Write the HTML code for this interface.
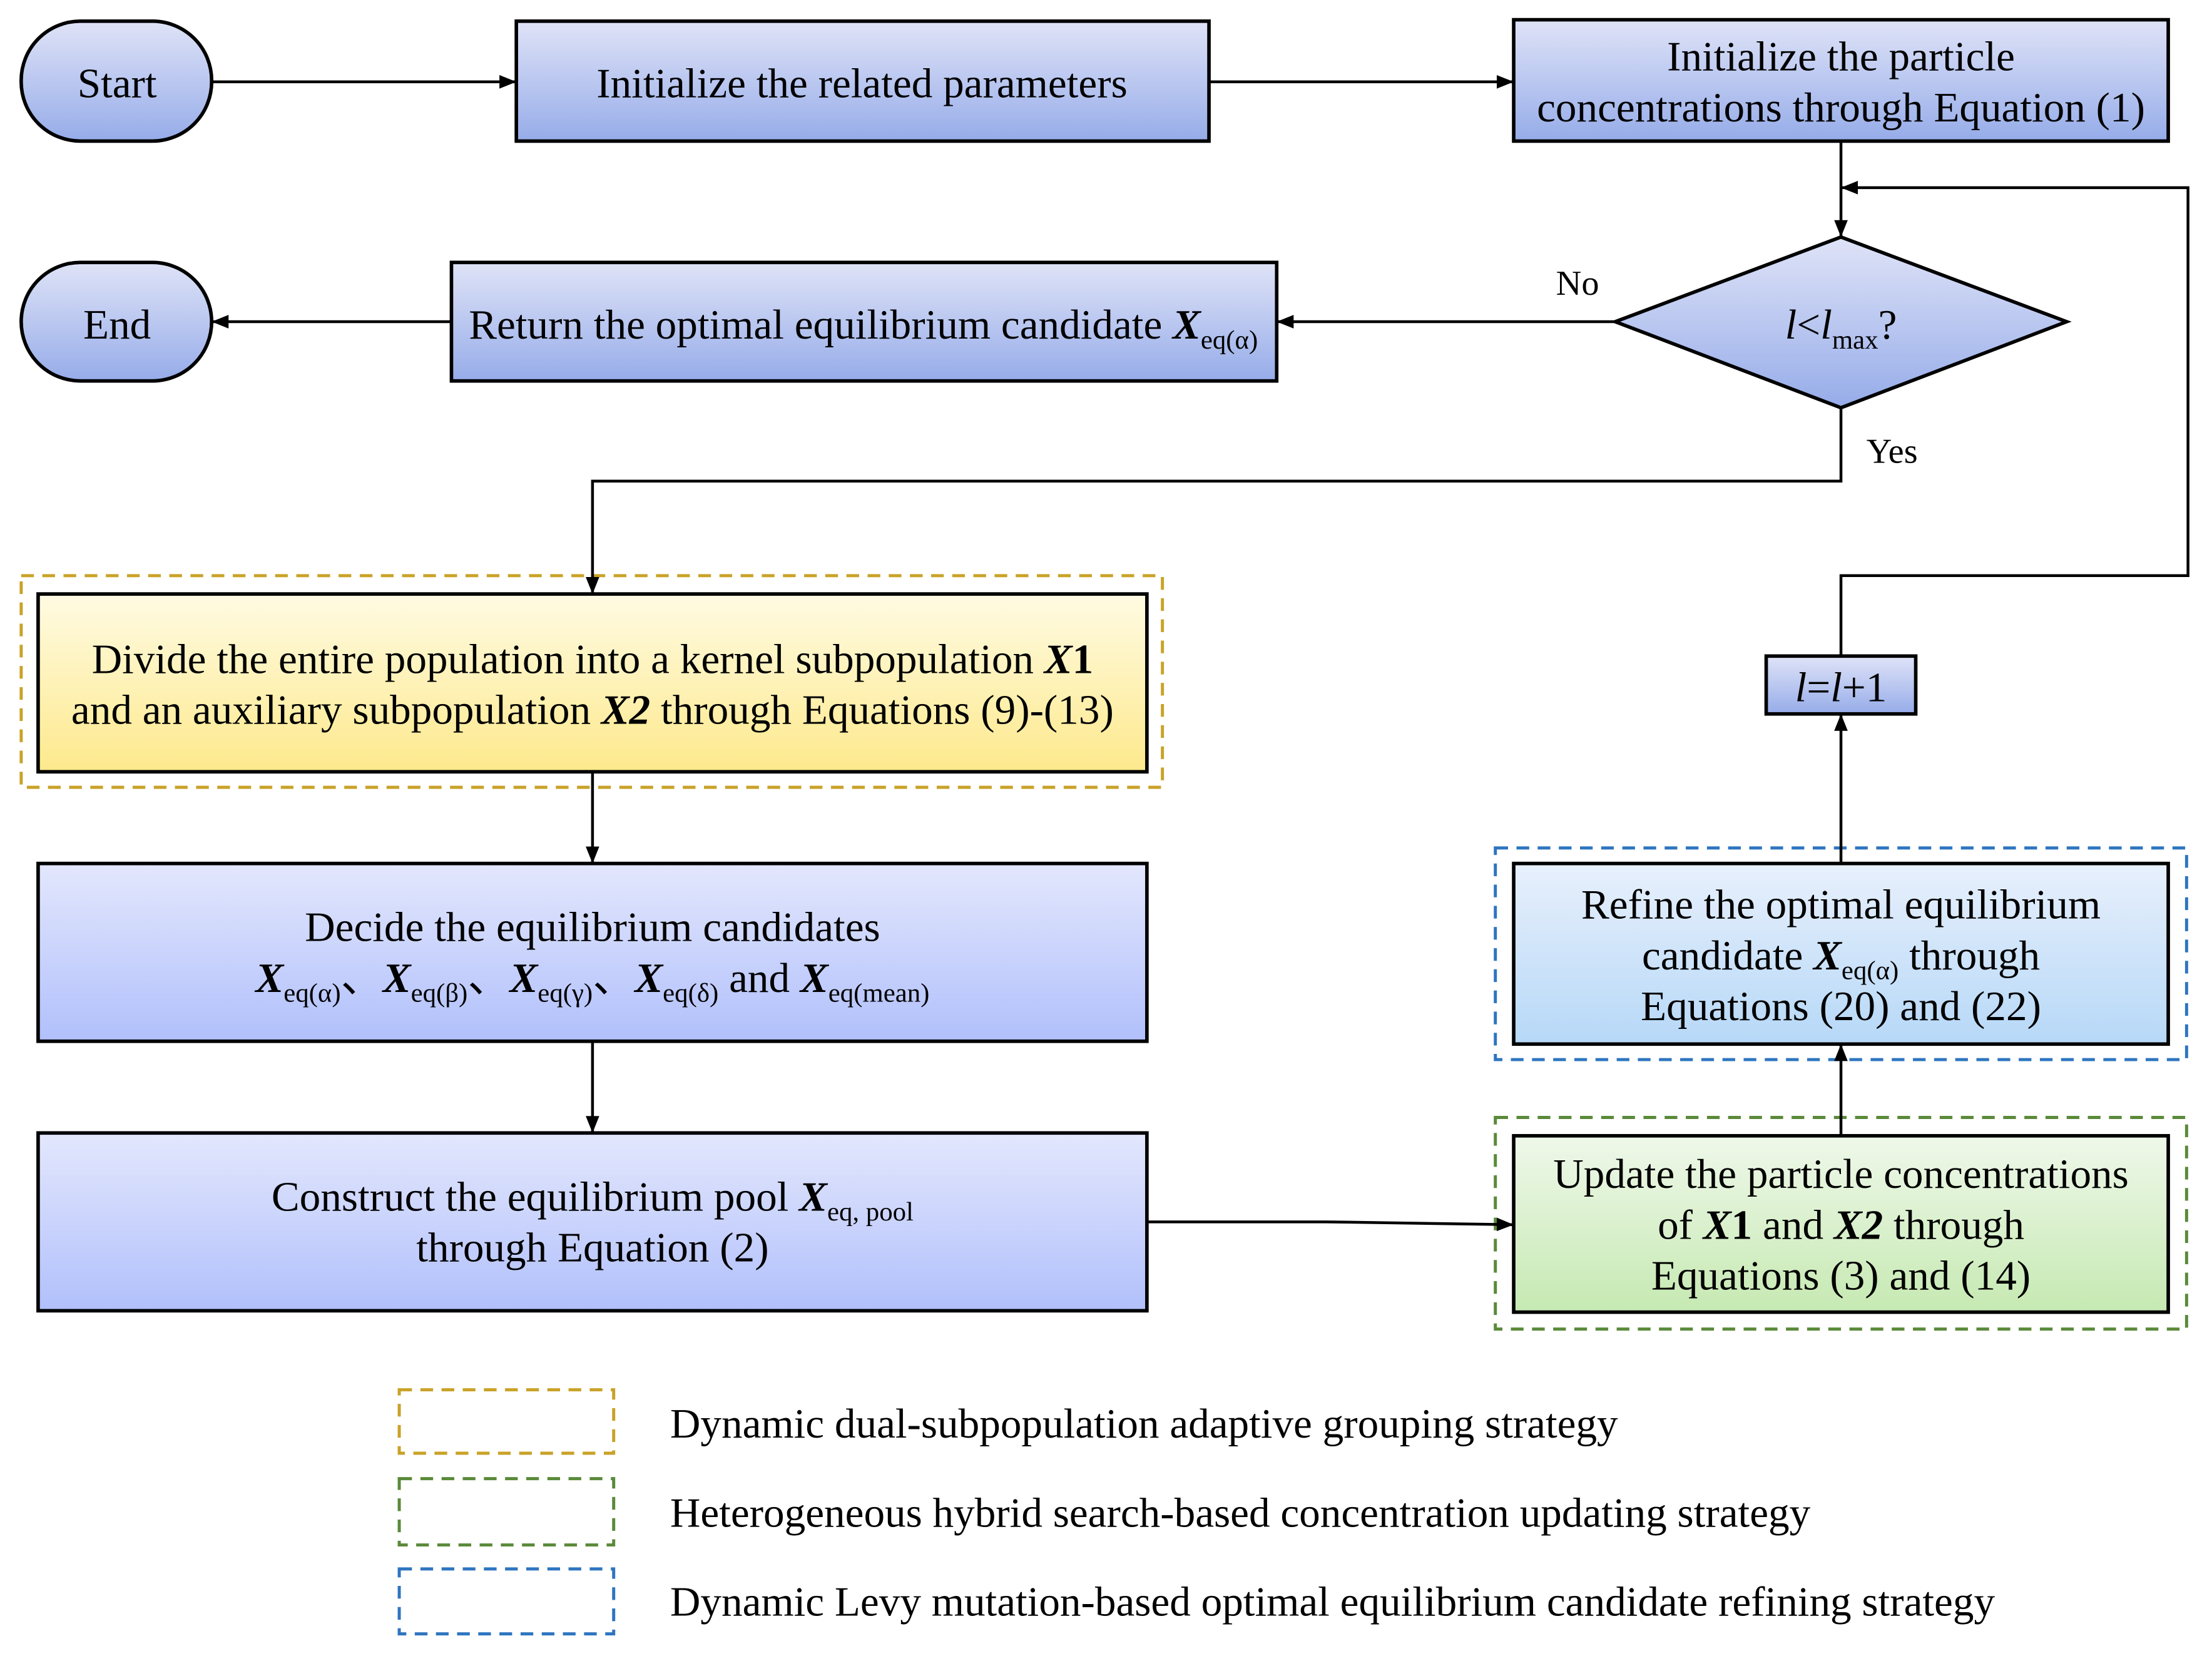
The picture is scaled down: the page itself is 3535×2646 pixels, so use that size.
<!DOCTYPE html>
<html><head><meta charset="utf-8"><style>html,body{margin:0;padding:0;background:#fff}svg{display:block}text{font-family:"Liberation Serif","Times New Roman",serif}</style></head>
<body>
<svg width="3535" height="2646" viewBox="0 0 1568 1173.7" xmlns="http://www.w3.org/2000/svg" font-size="29.8">
<defs>
<linearGradient id="b1" x1="0" y1="0" x2="0" y2="1"><stop offset="0" stop-color="#dfe3f7"/><stop offset="1" stop-color="#96ace9"/></linearGradient>
<linearGradient id="b2" x1="0" y1="0" x2="0" y2="1"><stop offset="0" stop-color="#e3e7fd"/><stop offset="1" stop-color="#b1c0fb"/></linearGradient>
<linearGradient id="y" x1="0" y1="0" x2="0" y2="1"><stop offset="0" stop-color="#fffbe3"/><stop offset="1" stop-color="#fde98c"/></linearGradient>
<linearGradient id="g" x1="0" y1="0" x2="0" y2="1"><stop offset="0" stop-color="#eff8ea"/><stop offset="1" stop-color="#c6e9b2"/></linearGradient>
<linearGradient id="lb" x1="0" y1="0" x2="0" y2="1"><stop offset="0" stop-color="#e8f0fc"/><stop offset="1" stop-color="#b6d8f7"/></linearGradient>
<marker id="m" viewBox="0 0 10 10" refX="10" refY="5" markerWidth="12" markerHeight="12" orient="auto" markerUnits="userSpaceOnUse"><path d="M0,1L10,5L0,9z" fill="#000"/></marker>
</defs>
<g stroke="#000" stroke-width="2.5">
<rect x="15" y="15" width="135" height="85" rx="42" fill="url(#b1)"/>
<rect x="15" y="186" width="135" height="84" rx="42" fill="url(#b1)"/>
<rect x="366" y="15" width="491" height="85" fill="url(#b1)"/>
<rect x="1073" y="14" width="464" height="86" fill="url(#b1)"/>
<polygon points="1145,228 1305,168 1465,228 1305,289" fill="url(#b1)"/>
<rect x="320" y="186" width="585" height="84" fill="url(#b1)"/>
<rect x="27" y="421" width="786" height="126" fill="url(#y)"/>
<rect x="27" y="612" width="786" height="126" fill="url(#b2)"/>
<rect x="27" y="803" width="786" height="126" fill="url(#b2)"/>
<rect x="1073" y="805" width="464" height="125" fill="url(#g)"/>
<rect x="1073" y="612" width="464" height="128" fill="url(#lb)"/>
<rect x="1252" y="465" width="106" height="41" fill="url(#b1)"/>
</g>
<g fill="none" stroke-width="2.2" stroke-dasharray="9,6">
<rect x="15" y="408" width="809" height="150" stroke="#c9a227"/>
<rect x="1060" y="792" width="490" height="150" stroke="#5a8a3a"/>
<rect x="1060" y="601" width="490" height="150" stroke="#2e75c0"/>
<rect x="283" y="985" width="152" height="45" stroke="#c9a227"/>
<rect x="283" y="1048" width="152" height="47" stroke="#5a8a3a"/>
<rect x="283" y="1112" width="152" height="46" stroke="#2e75c0"/>
</g>
<g stroke="#000" stroke-width="2" fill="none">
<line x1="150" y1="58" x2="366" y2="58" marker-end="url(#m)"/>
<line x1="857" y1="58" x2="1073" y2="58" marker-end="url(#m)"/>
<line x1="1305" y1="100" x2="1305" y2="168" marker-end="url(#m)"/>
<line x1="1145" y1="228" x2="905" y2="228" marker-end="url(#m)"/>
<line x1="320" y1="228" x2="150" y2="228" marker-end="url(#m)"/>
<polyline points="1305,289 1305,341 420,341 420,421" marker-end="url(#m)"/>
<line x1="420" y1="547" x2="420" y2="612" marker-end="url(#m)"/>
<line x1="420" y1="738" x2="420" y2="803" marker-end="url(#m)"/>
<polyline points="813,866 940,866 1073,868" marker-end="url(#m)"/>
<line x1="1305" y1="805" x2="1305" y2="740" marker-end="url(#m)"/>
<line x1="1305" y1="612" x2="1305" y2="506" marker-end="url(#m)"/>
<polyline points="1305,465 1305,408 1551,408 1551,133 1305,133" marker-end="url(#m)"/>
</g>
<g text-anchor="middle" fill="#000">
<text x="83" y="69">Start</text>
<text x="83" y="240">End</text>
<text x="611" y="69">Initialize the related parameters</text>
<text x="1305" y="50">Initialize the particle</text>
<text x="1305" y="86">concentrations through Equation (1)</text>
<text x="1305" y="240"><tspan font-style="italic">l</tspan>&lt;<tspan font-style="italic">l</tspan><tspan font-size="19" dy="7">max</tspan><tspan dy="-7">?</tspan></text>
<text x="612" y="240">Return the optimal equilibrium candidate <tspan font-style="italic" font-weight="bold">X</tspan><tspan font-size="19" dy="7">eq(α)</tspan></text>
<text x="420" y="477">Divide the entire population into a kernel subpopulation <tspan font-style="italic" font-weight="bold">X</tspan><tspan font-weight="bold">1</tspan></text>
<text x="420" y="513">and an auxiliary subpopulation <tspan font-style="italic" font-weight="bold">X2</tspan> through Equations (9)-(13)</text>
<text x="420" y="667">Decide the equilibrium candidates</text>
<text x="420" y="703"><tspan font-style="italic" font-weight="bold">X</tspan><tspan font-size="19" dy="7">eq(α)</tspan><tspan dy="-7">、</tspan><tspan font-style="italic" font-weight="bold">X</tspan><tspan font-size="19" dy="7">eq(β)</tspan><tspan dy="-7">、</tspan><tspan font-style="italic" font-weight="bold">X</tspan><tspan font-size="19" dy="7">eq(γ)</tspan><tspan dy="-7">、</tspan><tspan font-style="italic" font-weight="bold">X</tspan><tspan font-size="19" dy="7">eq(δ)</tspan><tspan dy="-7"> and </tspan><tspan font-style="italic" font-weight="bold">X</tspan><tspan font-size="19" dy="7">eq(mean)</tspan></text>
<text x="420" y="858">Construct the equilibrium pool <tspan font-style="italic" font-weight="bold">X</tspan><tspan font-size="19" dy="7">eq, pool</tspan></text>
<text x="420" y="894">through Equation (2)</text>
<text x="1305" y="842">Update the particle concentrations</text>
<text x="1305" y="878">of <tspan font-style="italic" font-weight="bold">X</tspan><tspan font-weight="bold">1</tspan> and <tspan font-style="italic" font-weight="bold">X2</tspan> through</text>
<text x="1305" y="914">Equations (3) and (14)</text>
<text x="1305" y="651">Refine the optimal equilibrium</text>
<text x="1305" y="687">candidate <tspan font-style="italic" font-weight="bold">X</tspan><tspan font-size="19" dy="7">eq(α)</tspan><tspan dy="-7"> through</tspan></text>
<text x="1305" y="723">Equations (20) and (22)</text>
<text x="1305" y="497"><tspan font-style="italic">l</tspan>=<tspan font-style="italic">l</tspan>+1</text>
</g>
<g font-size="25" fill="#000">
<text x="1103" y="209">No</text>
<text x="1323" y="328">Yes</text>
</g>
<g font-size="29.8" fill="#000">
<text x="475" y="1019">Dynamic dual-subpopulation adaptive grouping strategy</text>
<text x="475" y="1082">Heterogeneous hybrid search-based concentration updating strategy</text>
<text x="475" y="1145">Dynamic Levy mutation-based optimal equilibrium candidate refining strategy</text>
</g>
</svg>
</body></html>
